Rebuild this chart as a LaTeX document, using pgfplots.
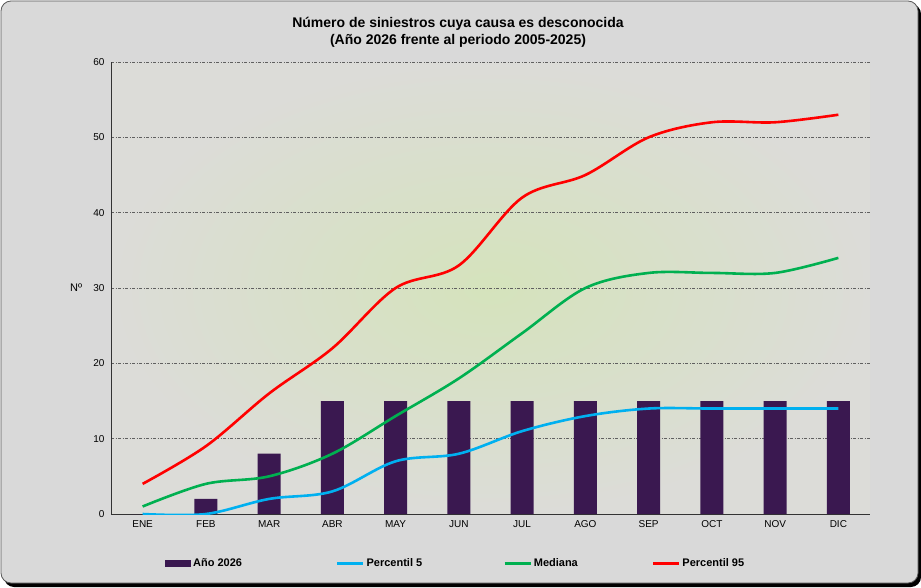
\documentclass[border=0pt]{standalone}
\usepackage{pgfplots}
\pgfplotsset{compat=1.18}
\usepackage{fontspec}
\setmainfont{Liberation Sans}
\setsansfont{Liberation Sans}
\definecolor{bgc}{HTML}{D9D9D9}
\definecolor{barc}{HTML}{3A1850}
\definecolor{pfive}{HTML}{00B0F0}
\definecolor{medc}{HTML}{00B050}
\definecolor{pnine}{HTML}{FF0000}
\definecolor{inner}{HTML}{D5E3BC}
\definecolor{outer}{HTML}{DCDCD8}
\begin{document}
\begin{tikzpicture}[x=1pt,y=1pt]
\path[use as bounding box] (0,0) rectangle (921,587);
\fill[black,rounded corners=10pt] (4,0) rectangle (921,583);
\fill[bgc,draw=gray!70!black,line width=0.8pt,rounded corners=10pt] (1,4) rectangle (918,586);
\node[font=\bfseries\fontsize{14}{17}\selectfont,align=center] at (458,555) {Número de siniestros cuya causa es desconocida\\(Año 2026 frente al periodo 2005-2025)};
\begin{axis}[
  at={(111pt,73pt)}, anchor=south west,
  scale only axis, width=759pt, height=452pt,
  xmin=-0.5, xmax=11.5, ymin=0, ymax=60,
  xtick={0,...,11},
  xticklabels={ENE,FEB,MAR,ABR,MAY,JUN,JUL,AGO,SEP,OCT,NOV,DIC},
  ytick={0,10,...,60},
  axis x line*=bottom, axis y line*=left,
  axis line style={gray!40!black,line width=0.9pt,-},
  major tick length=0pt,
  ymajorgrids,
  major grid style={gray!75!black,line width=0.6pt,dash pattern=on 3pt off 1.5pt on 1pt off 1.5pt},
  tick label style={font=\fontsize{10}{12}\selectfont},
  /pgf/number format/assume math mode=true,
  xticklabel style={yshift=-3pt},
  yticklabel style={xshift=-3pt},
  ylabel={Nº},
  every axis y label/.style={at={(axis description cs:-0.046,0.5)},anchor=center,font=\fontsize{11}{13}\selectfont},
  axis background/.style={shade,shading=radial,inner color=inner,outer color=outer},
  legend columns=4,
  legend style={at={(axis description cs:0.071,-0.11)},anchor=west,draw=none,fill=none,inner sep=0pt,
    font=\bfseries\fontsize{11}{13}\selectfont,
    /tikz/column 2/.style={column sep=92pt},
    /tikz/column 4/.style={column sep=79pt},
    /tikz/column 6/.style={column sep=72pt}},
  legend cell align=left,
]
\addplot[ybar,bar width=0.36,fill=barc,draw=none,
  legend image code/.code={\fill[barc] (0pt,-3.5pt) rectangle (26pt,3.5pt);}]
  coordinates {(0,0) (1,2) (2,8) (3,15) (4,15) (5,15) (6,15) (7,15) (8,15) (9,15) (10,15) (11,15)};
\addlegendentry{Año 2026}
\addplot[pfive,line width=2.6pt,smooth,tension=0.55,
  legend image code/.code={\draw[pfive,line width=2.6pt] (0pt,0pt) -- (26pt,0pt);}]
  coordinates {(0,0) (1,0) (2,2) (3,3) (4,7) (5,8) (6,11) (7,13) (8,14) (9,14) (10,14) (11,14)};
\addlegendentry{Percentil 5}
\addplot[medc,line width=2.6pt,smooth,tension=0.55,
  legend image code/.code={\draw[medc,line width=2.6pt] (0pt,0pt) -- (26pt,0pt);}]
  coordinates {(0,1) (1,4) (2,5) (3,8) (4,13) (5,18) (6,24) (7,30) (8,32) (9,32) (10,32) (11,34)};
\addlegendentry{Mediana}
\addplot[pnine,line width=2.6pt,smooth,tension=0.55,
  legend image code/.code={\draw[pnine,line width=2.6pt] (0pt,0pt) -- (26pt,0pt);}]
  coordinates {(0,4) (1,9) (2,16) (3,22) (4,30) (5,33) (6,42) (7,45) (8,50) (9,52) (10,52) (11,53)};
\addlegendentry{Percentil 95}
\end{axis}
\end{tikzpicture}
\end{document}
